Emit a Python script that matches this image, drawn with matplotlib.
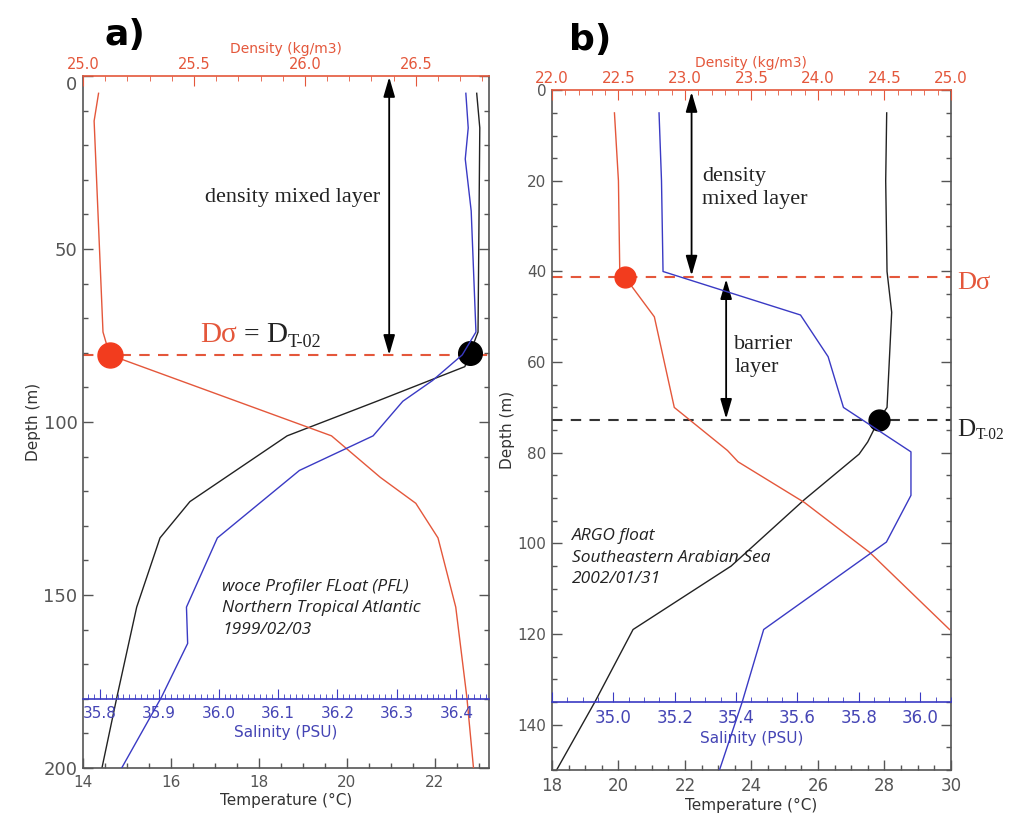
import matplotlib
matplotlib.use('Agg')
import matplotlib.pyplot as plt
import numpy as np
from matplotlib.ticker import MultipleLocator, FuncFormatter

# ---- panel a : woce PFL, Northern Tropical Atlantic ----
a_depth_rho = [5, 13, 74, 80.6, 104, 116, 123.5, 133.5, 153.5, 179.5, 200]
a_rho = [25.07, 25.05, 25.09, 25.12, 26.12, 26.34, 26.50, 26.60, 26.68, 26.73, 26.76]
a_depth_t = [5, 15, 74, 80, 84, 94, 104, 123, 133.5, 153.5, 179.5, 200]
a_temp = [22.95, 23.02, 22.98, 22.8, 22.68, 20.68, 18.64, 16.43, 15.75, 15.22, 14.77, 14.43]
a_depth_s = [5, 15, 24, 39, 74, 80.6, 88, 94, 104, 114, 133.5, 153.5, 164, 179.5, 200]
a_sal = [36.416, 36.42, 36.415, 36.425, 36.433, 36.41, 36.36, 36.31, 36.26, 36.136,
         35.998, 35.946, 35.948, 35.904, 35.837]
a_d_sigma = 80.6
a_d_t02 = 80.0

# ---- panel b : ARGO float, SE Arabian Sea ----
b_depth_rho = [5, 20, 40, 41.3, 50, 70, 79.5, 82, 91, 102, 119]
b_rho = [22.47, 22.50, 22.51, 22.55, 22.77, 22.92, 23.32, 23.40, 23.90, 24.39, 24.99]
b_depth_t = [5, 20, 40, 49, 70, 72.6, 77.6, 80.3, 90.3, 105, 119, 135, 150]
b_temp = [28.07, 28.04, 28.08, 28.22, 28.08, 27.84, 27.5, 27.24, 25.6, 23.39, 20.44, 19.29, 18.14]
b_depth_s = [5, 20, 40, 49.6, 58.8, 70, 79.8, 89.4, 99.7, 119, 135, 150]
b_sal = [35.149, 35.157, 35.162, 35.61, 35.70, 35.75, 35.97, 35.97, 35.89, 35.49, 35.42, 35.346]
b_d_sigma = 41.3
b_d_t02 = 72.8

RED = '#E4573B'
DOT_RED = '#F23C1E'
BLUE = '#3A3AC4'
BLUE_TXT = '#4545B5'
GREY = '#555555'

plt.rcParams['font.family'] = 'DejaVu Sans'
SERIF = 'Liberation Serif'


def setup(ax, tlim, tstep, dlim, dmaj, dmin, rlim, slim, smaj, smin, s_depth, s_first,
          dsize, tsize, rsize, ssize):
    ax.set_xlim(tlim)
    ax.set_yticks(np.arange(dlim[0], dlim[1] + 1, dmaj))
    ax.set_ylim(dlim[1], dlim[0])
    ax.xaxis.set_major_locator(MultipleLocator(tstep))
    ax.xaxis.set_minor_locator(MultipleLocator(0.5))
    ax.yaxis.set_minor_locator(MultipleLocator(dmin))
    ax.tick_params(axis='both', which='both', direction='in', colors=GREY,
                   top=False, right=True, width=1)
    ax.tick_params(axis='both', which='major', length=7)
    ax.tick_params(axis='both', which='minor', length=3.5)
    ax.tick_params(axis='y', labelsize=dsize, pad=4)
    ax.tick_params(axis='x', labelsize=tsize, pad=5)
    for s in ['left', 'right', 'bottom']:
        ax.spines[s].set_color(GREY)
        ax.spines[s].set_linewidth(1.2)
    ax.spines['top'].set_visible(False)
    ax.set_xlabel('Temperature (°C)', fontsize=11, color='#333333', labelpad=2)
    ax.set_ylabel('Depth (m)', fontsize=11, color='#333333', labelpad=2)

    rho = ax.twiny()
    rho.set_xlim(rlim)
    rho.xaxis.set_major_locator(MultipleLocator(0.5))
    rho.xaxis.set_minor_locator(MultipleLocator(0.1))
    rho.tick_params(axis='x', which='both', direction='in', colors=RED,
                    labelsize=rsize, pad=3)
    rho.tick_params(axis='x', which='major', length=7)
    rho.tick_params(axis='x', which='minor', length=3.5)
    for s in ['left', 'right', 'bottom']:
        rho.spines[s].set_visible(False)
    rho.spines['top'].set_color(RED)
    rho.spines['top'].set_linewidth(1.2)
    rho.set_xlabel('Density (kg/m3)', fontsize=10, color=RED, labelpad=3)
    rho.xaxis.set_major_formatter('{x:.1f}')

    sal = ax.twiny()
    sal.set_xlim(slim)
    for s in ['left', 'right', 'top']:
        sal.spines[s].set_visible(False)
    sal.spines['bottom'].set_position(('data', s_depth))
    sal.spines['bottom'].set_color(BLUE)
    sal.spines['bottom'].set_linewidth(1.2)
    sal.xaxis.set_ticks_position('bottom')
    sal.xaxis.set_label_position('bottom')
    sal.xaxis.set_major_locator(MultipleLocator(smaj))
    sal.xaxis.set_minor_locator(MultipleLocator(smin))
    sal.xaxis.set_major_formatter(
        FuncFormatter(lambda v, p: f'{v:.1f}' if v >= s_first - 1e-6 else ''))
    sal.tick_params(axis='x', which='both', direction='in', colors=BLUE,
                    labelcolor=BLUE_TXT, labelsize=ssize, pad=5)
    sal.tick_params(axis='x', which='major', length=7)
    sal.tick_params(axis='x', which='minor', length=3.5)
    sal.set_xlabel('Salinity (PSU)', fontsize=11, color=BLUE_TXT, labelpad=3)
    return rho, sal


def d_t02(ax, first, size, **kw):
    # "D" with a small "T-02" subscript after it
    if first is None:
        t = ax.text(s='D', fontsize=size, family=SERIF, color='#222222', **kw)
    else:
        t = ax.annotate('D', xy=(1, 0), xycoords=first, ha='left', va='bottom',
                        fontsize=size, family=SERIF, color='#222222')
    ax.annotate('T-02', xy=(1, 0), xycoords=t, xytext=(0, -1.5),
                textcoords='offset points', ha='left', va='bottom',
                fontsize=size * 0.62, family=SERIF, color='#222222',
                annotation_clip=False)
    return t


fig = plt.figure(figsize=(10.15, 8.18), dpi=100)
fig.patch.set_facecolor('white')

arrow = dict(arrowstyle='<|-|>,head_length=1.2,head_width=0.35', color='black',
             lw=1.3, shrinkA=0, shrinkB=0)

# ================= panel a =================
ax_a = fig.add_axes([0.0818, 0.0611, 0.400, 0.846])
rho_a, sal_a = setup(ax_a, (14, 23.23), 2, (0, 200), 50, 10, (25.0, 26.83),
                     (35.772, 36.455), 0.1, 0.01, 180, 35.8, 13, 11, 10.5, 11)
# the "0" label sits just under the top axis, as in the original
ax_a.yaxis.get_major_ticks()[0].label1.set_verticalalignment('top')

rho_a.plot(a_rho, a_depth_rho, color=RED, lw=1)
ax_a.plot(a_temp, a_depth_t, color='#222222', lw=1)
sal_a.plot(a_sal, a_depth_s, color=BLUE, lw=1)

ax_a.axhline(a_d_sigma, color=RED, ls=(0, (5, 4)), lw=1.5)
rho_a.plot([25.12], [a_d_sigma], 'o', color=DOT_RED, ms=18, zorder=5)
ax_a.plot([22.8], [a_d_t02], 'o', color='black', ms=17, zorder=5)

rho_a.annotate('', xy=(26.38, 0.3), xytext=(26.38, a_d_sigma), arrowprops=arrow)
rho_a.text(26.34, 35, 'density mixed layer', ha='right', va='center',
           fontsize=16, family=SERIF, color='#222222')
t1 = rho_a.text(25.527, 77, 'Dσ', ha='left', va='baseline', fontsize=21,
                family=SERIF, color=RED)
eq = rho_a.annotate(' = ', xy=(1, 0), xycoords=t1, ha='left', va='bottom',
                    fontsize=20, family=SERIF, color='#222222')
d_t02(rho_a, eq, 21)
ax_a.text(17.16, 153.8, 'woce Profiler FLoat (PFL)\nNorthern Tropical Atlantic\n1999/02/03',
          ha='left', va='center', fontsize=12.5, family=['Open Sans', 'DejaVu Sans'],
          style='italic', color='#222222', linespacing=1.45)

# ================= panel b =================
ax_b = fig.add_axes([0.5438, 0.0587, 0.393, 0.831])
rho_b, sal_b = setup(ax_b, (18, 30), 2, (0, 150), 20, 5, (22.0, 25.0),
                     (34.8, 36.1), 0.2, 0.05, 135, 35.0, 11, 12, 11, 12)

rho_b.plot(b_rho, b_depth_rho, color=RED, lw=1)
ax_b.plot(b_temp, b_depth_t, color='#222222', lw=1)
sal_b.plot(b_sal, b_depth_s, color=BLUE, lw=1)

ax_b.axhline(b_d_sigma, color=RED, ls=(0, (5, 4)), lw=1.5)
ax_b.axhline(b_d_t02, color='#333333', ls=(0, (5, 4)), lw=1.5)
rho_b.plot([22.55], [b_d_sigma], 'o', color=DOT_RED, ms=15, zorder=5)
ax_b.plot([27.84], [b_d_t02], 'o', color='black', ms=15, zorder=5)

rho_b.annotate('', xy=(23.05, 0.4), xytext=(23.05, b_d_sigma - 0.4), arrowprops=arrow)
rho_b.annotate('', xy=(23.31, b_d_sigma + 0.4), xytext=(23.31, b_d_t02 - 0.3),
               arrowprops=arrow)
rho_b.text(23.13, 21.6, 'density\nmixed layer', ha='left', va='center', fontsize=16,
           family=SERIF, color='#222222', linespacing=1.25)
rho_b.text(23.37, 58.7, 'barrier\nlayer', ha='left', va='center', fontsize=16,
           family=SERIF, color='#222222', linespacing=1.25)
ax_b.text(1.016, b_d_sigma + 1.3, 'Dσ', transform=ax_b.get_yaxis_transform(),
          ha='left', va='center', fontsize=19, family=SERIF, color=RED, clip_on=False)
d_t02(ax_b, None, 18, x=1.016, y=b_d_t02 + 3.4, transform=ax_b.get_yaxis_transform(),
      ha='left', va='baseline', clip_on=False)
ax_b.text(18.6, 103.2, 'ARGO float\nSoutheastern Arabian Sea\n2002/01/31',
          ha='left', va='center', fontsize=12.5, family=['Open Sans', 'DejaVu Sans'],
          style='italic', color='#222222', linespacing=1.45)

fig.text(0.123, 0.957, 'a)', fontsize=26, fontweight='bold', ha='center', va='center')
fig.text(0.581, 0.951, 'b)', fontsize=26, fontweight='bold', ha='center', va='center')

fig.savefig('out.png', dpi=100, facecolor='white')
